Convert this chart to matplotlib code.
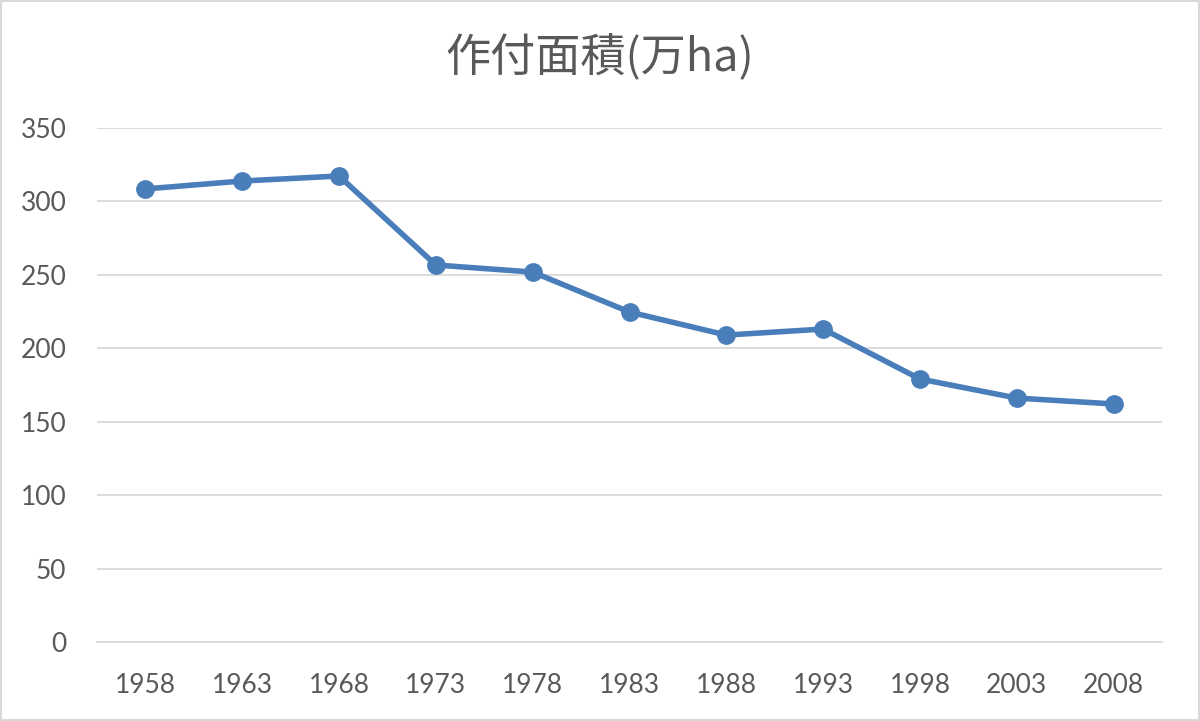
import matplotlib
matplotlib.use("Agg")
import matplotlib.pyplot as plt
from matplotlib.patches import Rectangle

years = ["1958", "1963", "1968", "1973", "1978", "1983", "1988", "1993", "1998", "2003", "2008"]
area = [308.5, 313.9, 317.3, 256.7, 251.9, 224.7, 209.0, 213.1, 179.1, 166.1, 162.1]
yticks = [0, 50, 100, 150, 200, 250, 300, 350]
title = "作付面積(万ha)"

fig = plt.figure(figsize=(12, 7.21), dpi=100)
fig.patch.set_facecolor("white")
fig.patches.append(Rectangle((0.001, 0.001), 0.998, 0.997, transform=fig.transFigure,
                             fill=False, edgecolor="#d9d9d9", linewidth=1.5))

ax = fig.add_axes([97/1200, 1-642/721, (1162-97)/1200, (642-128)/721])
x = list(range(len(years)))
ax.plot(x, area, color="#4a7ebb", linewidth=4.0, marker="o", markersize=12.5,
        solid_capstyle="round", solid_joinstyle="round", zorder=3)
ax.set_xlim(-0.5, len(years) - 0.5)
ax.set_ylim(0, 350)
ax.set_yticks(yticks)
ax.set_xticks(x)
ax.set_xticklabels(years)
ax.grid(axis="y", color="#d9d9d9", linewidth=1.3)
ax.set_axisbelow(True)
for s in ["top", "right", "left"]:
    ax.spines[s].set_visible(False)
ax.spines["bottom"].set_color("#d9d9d9")
ax.spines["bottom"].set_linewidth(1.3)
ax.tick_params(axis="both", length=0, colors="#595959", labelsize=19)
ax.tick_params(axis="y", pad=22)
ax.tick_params(axis="x", pad=22)
for lab in ax.get_xticklabels() + ax.get_yticklabels():
    lab.set_fontfamily(["Lato", "DejaVu Sans"])

fig.text(0.5, 1-58/721, title, ha="center", va="center", fontsize=32.5, color="#595959",
         family=["Noto Sans CJK JP", "DejaVu Sans"])

fig.savefig("out.png", dpi=100)
